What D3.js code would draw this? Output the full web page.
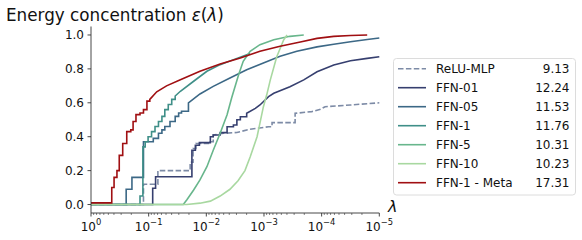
<!DOCTYPE html>
<html><head><meta charset="utf-8">
<script src="https://cdn.jsdelivr.net/npm/d3@7"></script>
<style>
html,body{margin:0;padding:0;background:#fff;}
svg{display:block;font-family:"DejaVu Sans",sans-serif;}
</style></head>
<body><svg id="c" width="582" height="240"></svg>
<script>
// ---- data (x = log10 of lambda, y = energy concentration) ----
const seriesNames = ["ReLU-MLP","FFN-01","FFN-05","FFN-1","FFN-5","FFN-10","FFN-1 - Meta"];
const seriesScores = ["9.13","12.24","11.53","11.76","10.31","10.23","17.31"];
const seriesColors = ["#7d8ba6","#363f6f","#3c6886","#3f8f88","#68b68c","#a8d8a0","#a00f12"];

const reluSteps = [[0,0],[-0.91,0.12],[-1.16,0.20],[-1.72,0.25],[-1.77,0.33],[-1.82,0.36],[-2.07,0.37],[-2.12,0.41]];
const reluTail  = [[-2.30,0.42],[-2.53,0.425],[-2.76,0.444],[-3.08,0.459],[-3.08,0.459],[-3.14,0.459],[-3.14,0.483],[-3.54,0.483],[-3.54,0.538],[-3.83,0.548],[-3.98,0.562],[-4.06,0.577],[-4.50,0.587],[-5.0,0.60]];

const ffn01Steps = [[0,0],[-1.07,0.096],[-1.12,0.164],[-1.75,0.32],[-1.81,0.35],[-1.88,0.365],[-2.07,0.40],[-2.12,0.41],[-2.24,0.424],[-2.36,0.459],[-2.47,0.469],[-2.53,0.50],[-2.59,0.518],[-2.70,0.538]];
const ffn01Tail  = [[-2.85,0.567],[-2.93,0.587],[-3.08,0.636],[-3.17,0.656],[-3.45,0.695],[-3.69,0.735],[-3.92,0.783],[-4.21,0.823],[-4.50,0.848],[-4.79,0.862],[-5.0,0.872]];

const ffn05Steps = [[0,0],[-0.61,0.09],[-0.71,0.16],[-0.91,0.37],[-1.08,0.39],[-1.17,0.42],[-1.23,0.44],[-1.28,0.46],[-1.37,0.49],[-1.46,0.52],[-1.52,0.54],[-1.57,0.55],[-1.69,0.60]];
const ffn05Tail  = [[-1.89,0.652],[-2.12,0.697],[-2.41,0.746],[-2.70,0.795],[-2.99,0.835],[-3.28,0.874],[-3.57,0.904],[-3.92,0.93],[-4.21,0.945],[-4.50,0.96],[-4.79,0.973],[-5.0,0.982]];

const ffn1Steps = [[0,0],[-0.85,0.05],[-0.90,0.34],[-0.94,0.37],[-0.99,0.40],[-1.05,0.43],[-1.11,0.46],[-1.17,0.49],[-1.23,0.52],[-1.28,0.56],[-1.34,0.59],[-1.40,0.62],[-1.46,0.64]];
const ffn1Tail  = [[-1.55,0.668],[-1.78,0.727],[-2.01,0.786],[-2.24,0.825],[-2.53,0.862],[-2.76,0.89]];

const ffn5Steps = [[0,0]];
const ffn5Tail  = [[-1.60,0],[-1.66,0.027],[-1.78,0.086],[-1.89,0.145],[-2.01,0.223],[-2.12,0.32],[-2.24,0.42],[-2.36,0.53],[-2.44,0.63],[-2.56,0.766],[-2.64,0.845],[-2.76,0.904],[-2.93,0.943],[-3.17,0.972],[-3.45,0.992],[-3.69,1.0]];

const ffn10Steps = [[0,0]];
const ffn10Tail  = [[-1.66,0],[-1.89,0.008],[-2.07,0.02],[-2.24,0.05],[-2.41,0.09],[-2.55,0.14],[-2.67,0.2],[-2.76,0.28],[-2.88,0.4],[-2.93,0.48],[-2.99,0.577],[-3.05,0.65],[-3.11,0.735],[-3.22,0.87],[-3.34,0.97],[-3.40,1.0]];

const metaSteps = [[0,0.01],[-0.36,0.10],[-0.40,0.16],[-0.45,0.20],[-0.49,0.29],[-0.55,0.36],[-0.62,0.43],[-0.69,0.44],[-0.73,0.49],[-0.78,0.53],[-0.85,0.54],[-0.91,0.56],[-0.97,0.61],[-1.02,0.62]];
const metaTail  = [[-1.14,0.665],[-1.31,0.70],[-1.55,0.736],[-1.89,0.786],[-2.24,0.829],[-2.59,0.864],[-2.93,0.904],[-3.28,0.933],[-3.63,0.959],[-3.92,0.98],[-4.21,0.992],[-4.50,0.997],[-4.79,1.0]];

const yTickValues = [0,0.2,0.4,0.6,0.8,1.0];
const xTickExponents = [0,-1,-2,-3,-4,-5];

const allSteps = [reluSteps,ffn01Steps,ffn05Steps,ffn1Steps,ffn5Steps,ffn10Steps,metaSteps];
const allTails = [reluTail,ffn01Tail,ffn05Tail,ffn1Tail,ffn5Tail,ffn10Tail,metaTail];

// ---- drawing ----
const svg = d3.select("#c");
const x = d3.scaleLog().domain([1,1e-5]).range([91,379.3]);
const y = d3.scaleLinear().domain([-0.05,1.05]).range([213,26.5]);

function buildPoints(steps, tail){
  const pts = [];
  steps.forEach((p,i)=>{
    if(i>0) pts.push([Math.pow(10,p[0]), steps[i-1][1]]);
    pts.push([Math.pow(10,p[0]), p[1]]);
  });
  tail.forEach(p=>pts.push([Math.pow(10,p[0]), p[1]]));
  return pts;
}
const line = d3.line().x(d=>x(d[0])).y(d=>y(d[1]));

const g = svg.append("g");
allSteps.forEach((st,i)=>{
  const pts = buildPoints(st, allTails[i]);
  g.append("path").attr("d", line(pts))
    .attr("fill","none").attr("stroke",seriesColors[i])
    .attr("stroke-width",1.6).attr("stroke-linejoin","miter")
    .attr("stroke-dasharray", i===0 ? "5.5,2.4" : null);
});

// axes spines
const axisColor = "#333";
svg.append("line").attr("x1",x(1)).attr("x2",x(1)).attr("y1",y(-0.05)).attr("y2",y(1.05))
  .attr("stroke",axisColor).attr("stroke-width",0.9);
svg.append("line").attr("x1",x(1)).attr("x2",x(1e-5)).attr("y1",y(-0.05)).attr("y2",y(-0.05))
  .attr("stroke",axisColor).attr("stroke-width",0.9);

// y ticks
yTickValues.forEach(v=>{
  svg.append("line").attr("x1",x(1)-3.5).attr("x2",x(1)).attr("y1",y(v)).attr("y2",y(v))
    .attr("stroke",axisColor).attr("stroke-width",0.9);
  svg.append("text").attr("x",x(1)-7).attr("y",y(v)+4.3)
    .attr("text-anchor","end").attr("font-size",12).attr("fill","#111").text(v.toFixed(1));
});

// x ticks
const yb = y(-0.05);
xTickExponents.forEach(e=>{
  const v = Math.pow(10,e);
  svg.append("line").attr("x1",x(v)).attr("x2",x(v)).attr("y1",yb).attr("y2",yb+3.5)
    .attr("stroke",axisColor).attr("stroke-width",0.9);
  const t = svg.append("text").attr("x",x(v)).attr("y",yb+18).attr("text-anchor","middle")
    .attr("font-size",12).attr("fill","#111");
  t.append("tspan").text("10");
  t.append("tspan").attr("dy",-6.3).attr("font-size",8.4).text(e===0?"0":"\u2212"+(-e));
  if(e>-5){
    for(let m=2;m<=9;m++){
      const mv = m*v/10;
      svg.append("line").attr("x1",x(mv)).attr("x2",x(mv)).attr("y1",yb).attr("y2",yb+2)
        .attr("stroke",axisColor).attr("stroke-width",0.6);
    }
  }
});

// x axis label
svg.append("text").attr("x",388).attr("y",212).attr("font-size",16).attr("font-style","italic")
  .attr("fill","#111").text("\u03bb");

// title
const title = svg.append("text").attr("x",6).attr("y",21).attr("font-size",16.8).attr("fill","#111");
title.append("tspan").text("Energy concentration ");
title.append("tspan").attr("font-style","italic").text("\u03b5");
title.append("tspan").text("(");
title.append("tspan").attr("font-style","italic").text("\u03bb");
title.append("tspan").text(")");

// legend
const lg = svg.append("g");
lg.append("rect").attr("x",393.5).attr("y",58.5).attr("width",182).attr("height",136.5)
  .attr("rx",3).attr("fill","#fff").attr("fill-opacity",0.8).attr("stroke","#d8d8d8").attr("stroke-width",0.9);
seriesNames.forEach((n,i)=>{
  const cy = 68.7 + 19*i;
  lg.append("line").attr("x1",398).attr("x2",426).attr("y1",cy).attr("y2",cy)
    .attr("stroke",seriesColors[i]).attr("stroke-width",1.6)
    .attr("stroke-dasharray", i===0 ? "5.5,2.4" : null);
  lg.append("text").attr("x",436).attr("y",cy+4.3).attr("font-size",12).attr("fill","#111").text(n);
  lg.append("text").attr("x",569.5).attr("y",cy+4.3).attr("font-size",12).attr("fill","#111")
    .attr("text-anchor","end").text(seriesScores[i]);
});
</script></body></html>
